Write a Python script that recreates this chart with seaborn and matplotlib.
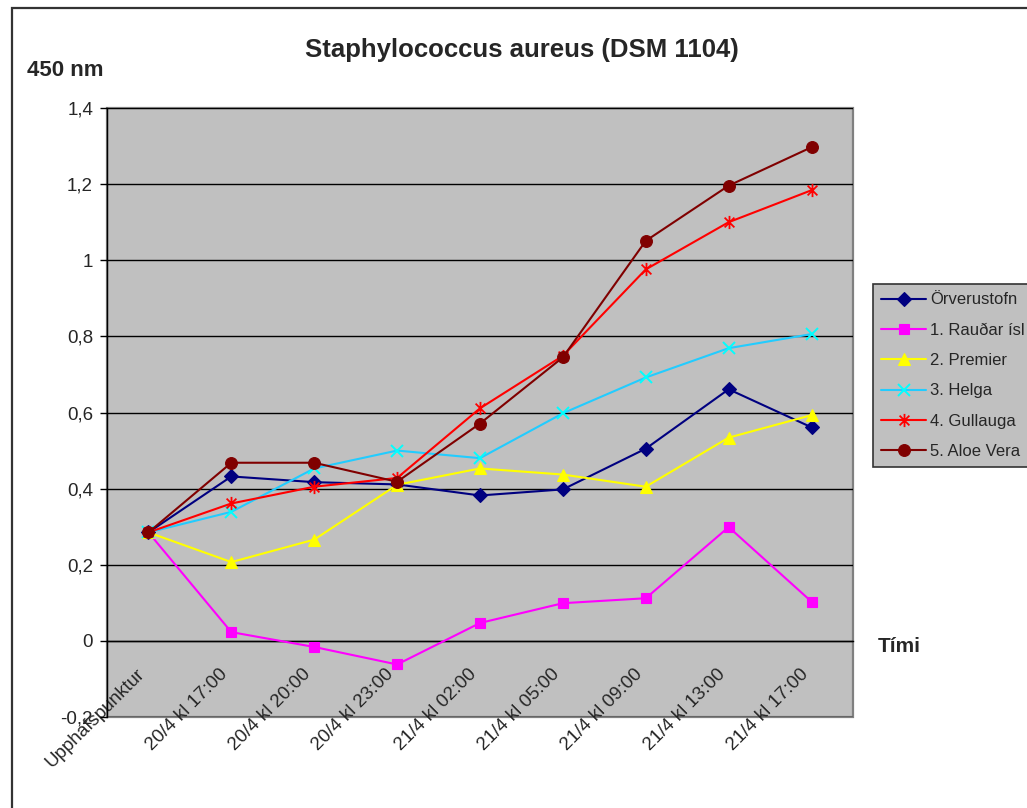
import numpy as np
import pandas as pd
import matplotlib
matplotlib.use("Agg")
import matplotlib.pyplot as plt
from matplotlib.path import Path
from matplotlib.patches import Rectangle
from matplotlib.ticker import FuncFormatter, FixedLocator
from matplotlib.transforms import ScaledTranslation
import seaborn as sns

# Sampling times (category axis)
times = ["Upphafspunktur", "20/4 kl 17:00", "20/4 kl 20:00", "20/4 kl 23:00",
         "21/4 kl 02:00", "21/4 kl 05:00", "21/4 kl 09:00", "21/4 kl 13:00",
         "21/4 kl 17:00"]

# Absorbance at 450 nm for each sample
orverustofn = [0.285, 0.432, 0.417, 0.411, 0.382, 0.398, 0.505, 0.661, 0.561]
raudar_isl  = [0.285, 0.023, -0.016, -0.062, 0.047, 0.099, 0.112, 0.299, 0.103]
premier     = [0.285, 0.207, 0.266, 0.410, 0.453, 0.437, 0.405, 0.534, 0.593]
helga       = [0.285, 0.339, 0.453, 0.500, 0.480, 0.598, 0.692, 0.769, 0.806]
gullauga    = [0.285, 0.361, 0.405, 0.428, 0.611, 0.749, 0.976, 1.100, 1.184]
aloe_vera   = [0.285, 0.468, 0.468, 0.418, 0.571, 0.745, 1.051, 1.196, 1.297]

series_names = ["Örverustofn", "1. Rauðar ísl", "2. Premier", "3. Helga",
                "4. Gullauga", "5. Aloe Vera"]
series_values = [orverustofn, raudar_isl, premier, helga, gullauga, aloe_vera]

# Excel-style star marker: an x with a vertical bar
star = Path([(-1, -1), (1, 1), (-1, 1), (1, -1), (0, -1.35), (0, 1.35)],
            [Path.MOVETO, Path.LINETO, Path.MOVETO, Path.LINETO,
             Path.MOVETO, Path.LINETO])

styles = [
    dict(color="#000080", marker="D", ms=7.0, mfc="#000080", mec="#000080", mew=0.8),
    dict(color="#FF00FF", marker="s", ms=7.5, mfc="#FF00FF", mec="#FF00FF", mew=0.8),
    dict(color="#FFFF00", marker="^", ms=9.0, mfc="#FFFF00", mec="#FFFF00", mew=0.8),
    dict(color="#22CCFF", marker="x", ms=8.5, mfc="none", mec="#00FFFF", mew=1.4),
    dict(color="#FF0000", marker=star, ms=9.5, mfc="none", mec="#FF0000", mew=1.3),
    dict(color="#800000", marker="o", ms=8.5, mfc="#800000", mec="#800000", mew=0.8),
]

rows = []
for name, vals in zip(series_names, series_values):
    for i, (t, v) in enumerate(zip(times, vals)):
        rows.append({"series": name, "pos": i, "time": t, "value": v})
df = pd.DataFrame(rows)

sns.set_theme(style="white")
plt.rcParams["font.family"] = ["Liberation Sans", "DejaVu Sans"]
plt.rcParams["axes.unicode_minus"] = False

W, H = 1027, 808
fig = plt.figure(figsize=(W / 100, H / 100), dpi=100)
fig.patch.set_facecolor("white")

# outer chart frame
fig.add_artist(Rectangle((12 / W, -0.1), 1.2, 1.1 - 8 / H, transform=fig.transFigure,
                         fill=False, edgecolor="#333333", linewidth=1.6))

ax = fig.add_axes([107 / W, 1 - 717 / H, (853 - 107) / W, (717 - 108) / H])
ax.set_facecolor("#C0C0C0")

for name, st in zip(series_names, styles):
    sub = df[df["series"] == name]
    sns.lineplot(data=sub, x="pos", y="value", ax=ax, label=name,
                 color=st["color"], linewidth=1.5, marker=st["marker"],
                 markersize=st["ms"], markerfacecolor=st["mfc"],
                 markeredgecolor=st["mec"], markeredgewidth=st["mew"],
                 sort=False, errorbar=None, zorder=3)

ax.set_xlim(-0.5, len(times) - 0.5)
ax.set_ylim(-0.2, 1.4)

# horizontal gridlines
yt = np.round(np.arange(-0.2, 1.41, 0.2), 1)
ax.yaxis.set_major_locator(FixedLocator(yt))
ax.yaxis.set_major_formatter(FuncFormatter(
    lambda v, p: ("%g" % round(v, 1)).replace(".", ",")))
ax.grid(axis="y", color="#000000", linewidth=1.0, zorder=1)
ax.grid(axis="x", visible=False)
ax.set_axisbelow(True)

# category axis crosses at zero
ax.spines["bottom"].set_position(("data", 0))
ax.spines["bottom"].set_color("#000000")
ax.spines["bottom"].set_linewidth(1.0)
ax.spines["left"].set_color("#000000")
ax.spines["left"].set_linewidth(1.0)
ax.spines["top"].set_visible(False)
ax.spines["right"].set_visible(False)
ax.add_patch(Rectangle((0, 0), 1, 1, transform=ax.transAxes, fill=False,
                       edgecolor="#808080", linewidth=1.6, zorder=0.5,
                       clip_on=False))

ax.set_xticks(range(len(times)))
ax.set_xticklabels(times, rotation=45, ha="right", va="top",
                   rotation_mode="anchor", fontsize=13.5)
ax.set_xticks(np.arange(-0.5, len(times), 1.0), minor=True)
ax.tick_params(axis="x", which="major", length=0, pad=20)
ax.tick_params(axis="x", which="minor", length=6, width=1.0, color="#000000",
               direction="out")
ax.tick_params(axis="y", length=5, width=1.0, color="#000000", direction="out",
               labelsize=13.5, pad=5, left=True)
ax.set_xlabel("")
ax.set_ylabel("")

shift = ScaledTranslation(-12 / 100, 3 / 100, fig.dpi_scale_trans)
for lab in ax.get_xticklabels():
    lab.set_transform(lab.get_transform() + shift)

handles, labels = ax.get_legend_handles_labels()
ax.get_legend().remove()
leg = fig.legend(handles, labels, loc="upper left",
                 bbox_to_anchor=(873 / W, 1 - 284 / H),
                 bbox_transform=fig.transFigure, frameon=True, fancybox=False,
                 facecolor="#C0C0C0", edgecolor="#333333", framealpha=1,
                 fontsize=12, handlelength=2.7, handletextpad=0.25,
                 borderpad=0.5, labelspacing=0.92, borderaxespad=0)
leg.get_frame().set_linewidth(1.2)

fig.text(522 / W, 1 - 50 / H, "Staphylococcus aureus (DSM 1104)",
         ha="center", va="center", fontsize=18.5, fontweight="bold")
fig.text(27 / W, 1 - 70 / H, "450 nm", ha="left", va="center",
         fontsize=16, fontweight="bold")
fig.text(878 / W, 1 - 647 / H, "Tími", ha="left", va="center",
         fontsize=15, fontweight="bold")

fig.savefig("out.png", dpi=100, facecolor="white")
